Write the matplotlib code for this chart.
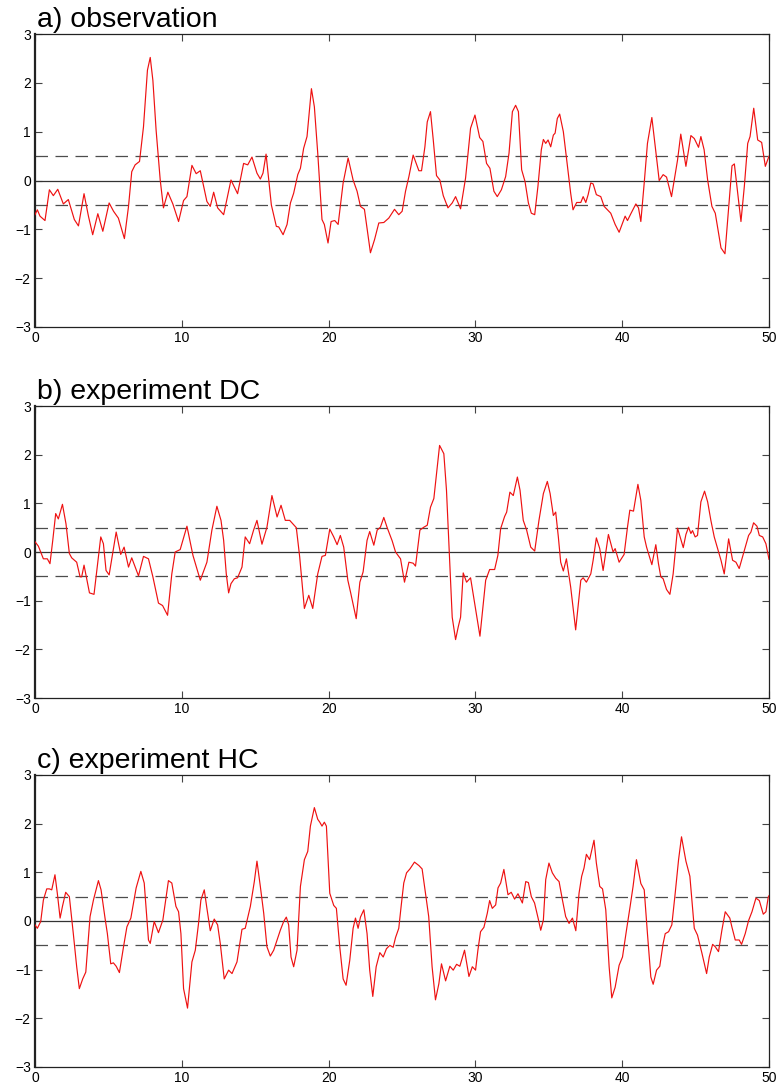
import matplotlib
matplotlib.use("Agg")
import matplotlib.pyplot as plt

# ---------------- data ----------------
obs_t = [0, 0.16, 0.34, 0.68, 0.98, 1.25, 1.55, 1.93, 2.27, 2.68,
         2.96, 3.34, 3.64, 3.93, 4.28, 4.62, 5.05, 5.35, 5.68, 6.09,
         6.37, 6.59, 6.82, 7.12, 7.39, 7.66, 7.85, 8.03, 8.25, 8.53,
         8.75, 9.05, 9.39, 9.78, 10.12, 10.35, 10.69, 10.98, 11.26, 11.71,
         11.94, 12.17, 12.44, 12.85, 13.35, 13.80, 14.21, 14.49, 14.78, 15.12,
         15.35, 15.53, 15.74, 16.10, 16.44, 16.60, 16.90, 17.17, 17.40, 17.62,
         17.90, 18.08, 18.30, 18.53, 18.83, 19.03, 19.26, 19.55, 19.71, 19.96,
         20.17, 20.42, 20.65, 20.99, 21.33, 21.67, 21.94, 22.17, 22.44, 22.85,
         23.13, 23.42, 23.76, 24.10, 24.49, 24.78, 25.01, 25.24, 25.47, 25.76,
         26.15, 26.33, 26.56, 26.72, 26.94, 27.13, 27.35, 27.58, 27.81, 28.13,
         28.42, 28.65, 28.99, 29.33, 29.67, 29.97, 30.29, 30.51, 30.76, 30.99,
         31.26, 31.49, 31.77, 32.06, 32.29, 32.52, 32.74, 32.93, 33.15, 33.38,
         33.61, 33.81, 34.04, 34.26, 34.49, 34.63, 34.79, 34.95, 35.13, 35.31,
         35.43, 35.58, 35.74, 35.99, 36.27, 36.49, 36.65, 36.90, 37.18, 37.34,
         37.52, 37.68, 37.86, 38.02, 38.24, 38.54, 38.77, 39.00, 39.22, 39.52,
         39.79, 40.20, 40.36, 40.59, 40.93, 41.11, 41.27, 41.50, 41.72, 42.02,
         42.25, 42.52, 42.79, 43.02, 43.36, 43.58, 43.77, 43.99, 44.34, 44.68,
         44.91, 45.20, 45.36, 45.58, 45.82, 46.11, 46.34, 46.73, 47.00, 47.30,
         47.48, 47.64, 47.87, 48.09, 48.32, 48.55, 48.71, 48.96, 49.23, 49.50,
         49.75, 50.0]
obs_v = [-0.70, -0.60, -0.73, -0.82, -0.19, -0.31, -0.18, -0.48, -0.39, -0.80,
         -0.93, -0.27, -0.73, -1.11, -0.68, -1.04, -0.46, -0.63, -0.77, -1.19,
         -0.53, 0.18, 0.32, 0.39, 1.10, 2.26, 2.52, 2.05, 1.03, 0.01,
         -0.56, -0.24, -0.48, -0.84, -0.41, -0.33, 0.31, 0.14, 0.20, -0.43,
         -0.53, -0.24, -0.56, -0.70, 0.01, -0.27, 0.35, 0.32, 0.48, 0.15,
         0.03, 0.15, 0.54, -0.50, -0.94, -0.95, -1.11, -0.90, -0.46, -0.26,
         0.12, 0.25, 0.66, 0.90, 1.88, 1.51, 0.56, -0.80, -0.90, -1.28,
         -0.84, -0.82, -0.90, -0.05, 0.46, 0.01, -0.22, -0.53, -0.59, -1.48,
         -1.21, -0.87, -0.86, -0.77, -0.59, -0.70, -0.63, -0.22, 0.08, 0.52,
         0.20, 0.20, 0.69, 1.20, 1.41, 0.83, 0.10, 0.01, -0.31, -0.56,
         -0.46, -0.33, -0.58, 0.05, 1.07, 1.34, 0.88, 0.80, 0.35, 0.25,
         -0.22, -0.33, -0.19, 0.08, 0.56, 1.41, 1.54, 1.41, 0.22, -0.02,
         -0.46, -0.67, -0.70, -0.12, 0.63, 0.84, 0.76, 0.83, 0.69, 0.93,
         0.97, 1.27, 1.36, 1.00, 0.29, -0.26, -0.60, -0.45, -0.45, -0.33,
         -0.45, -0.29, -0.05, -0.07, -0.29, -0.33, -0.53, -0.60, -0.67, -0.90,
         -1.06, -0.73, -0.82, -0.68, -0.48, -0.56, -0.84, -0.05, 0.76, 1.29,
         0.69, 0.00, 0.12, 0.07, -0.33, 0.08, 0.42, 0.95, 0.29, 0.92,
         0.86, 0.68, 0.90, 0.63, 0.01, -0.53, -0.67, -1.38, -1.50, -0.39,
         0.30, 0.34, -0.26, -0.84, -0.12, 0.76, 0.90, 1.48, 0.83, 0.78,
         0.29, 0.50]

dc_t = [0, 0.23, 0.57, 0.84, 1.02, 1.21, 1.41, 1.59, 1.87, 2.11,
        2.34, 2.50, 2.84, 3.07, 3.18, 3.34, 3.71, 4.02, 4.48, 4.66,
        4.84, 5.05, 5.53, 5.84, 6.07, 6.37, 6.59, 7.05, 7.39, 7.73,
        8.03, 8.41, 8.69, 9.03, 9.32, 9.55, 9.89, 10.35, 10.76, 11.26,
        11.71, 12.05, 12.39, 12.67, 12.85, 13.03, 13.19, 13.35, 13.58, 13.80,
        14.10, 14.32, 14.62, 14.89, 15.12, 15.46, 15.80, 16.14, 16.49, 16.76,
        17.05, 17.35, 17.80, 18.03, 18.35, 18.65, 18.92, 19.26, 19.55, 19.78,
        20.08, 20.35, 20.58, 20.80, 21.03, 21.31, 21.49, 21.88, 22.13, 22.35,
        22.62, 22.80, 23.08, 23.31, 23.53, 23.76, 23.99, 24.33, 24.56, 24.90,
        25.17, 25.47, 25.76, 25.92, 26.22, 26.49, 26.72, 26.94, 27.17, 27.40,
        27.56, 27.85, 28.03, 28.26, 28.42, 28.65, 28.83, 28.99, 29.17, 29.40,
        29.67, 29.95, 30.31, 30.70, 30.97, 31.31, 31.53, 31.72, 31.99, 32.13,
        32.35, 32.58, 32.86, 33.04, 33.26, 33.49, 33.77, 34.04, 34.33, 34.63,
        34.90, 35.09, 35.31, 35.47, 35.65, 35.81, 35.99, 36.20, 36.49, 36.83,
        37.18, 37.34, 37.56, 37.86, 38.02, 38.24, 38.47, 38.70, 39.06, 39.38,
        39.52, 39.79, 40.13, 40.36, 40.52, 40.77, 41.07, 41.27, 41.50, 41.66,
        42.02, 42.29, 42.47, 42.63, 42.79, 43.02, 43.25, 43.47, 43.77, 44.16,
        44.34, 44.52, 44.68, 44.79, 44.97, 45.13, 45.36, 45.61, 45.82, 46.04,
        46.27, 46.50, 46.73, 46.95, 47.25, 47.52, 47.75, 47.97, 48.32, 48.61,
        48.77, 48.95, 49.18, 49.34, 49.57, 49.79, 50.0]
dc_v = [0.21, 0.12, -0.14, -0.14, -0.24, 0.24, 0.79, 0.68, 0.98, 0.58,
        -0.03, -0.12, -0.21, -0.51, -0.51, -0.27, -0.84, -0.87, 0.31, 0.17,
        -0.38, -0.47, 0.41, -0.05, 0.10, -0.31, -0.12, -0.49, -0.09, -0.14,
        -0.51, -1.05, -1.10, -1.30, -0.45, 0.00, 0.05, 0.53, -0.07, -0.58,
        -0.21, 0.45, 0.94, 0.65, 0.24, -0.45, -0.84, -0.65, -0.55, -0.53,
        -0.31, 0.31, 0.17, 0.45, 0.65, 0.16, 0.51, 1.16, 0.72, 0.96,
        0.65, 0.65, 0.50, -0.10, -1.16, -0.89, -1.16, -0.45, -0.09, -0.07,
        0.47, 0.31, 0.15, 0.34, 0.10, -0.58, -0.82, -1.37, -0.62, -0.41,
        0.24, 0.42, 0.14, 0.45, 0.51, 0.71, 0.50, 0.23, 0.00, -0.14,
        -0.62, -0.21, -0.23, -0.29, 0.45, 0.51, 0.55, 0.92, 1.10, 1.75,
        2.19, 2.02, 1.27, -0.24, -1.34, -1.80, -1.54, -1.34, -0.43, -0.62,
        -0.53, -1.06, -1.73, -0.58, -0.36, -0.36, -0.07, 0.48, 0.73, 0.82,
        1.23, 1.16, 1.54, 1.27, 0.65, 0.45, 0.10, 0.02, 0.65, 1.20,
        1.45, 1.20, 0.75, 0.82, 0.31, -0.21, -0.39, -0.14, -0.72, -1.60,
        -0.58, -0.53, -0.62, -0.45, -0.17, 0.29, 0.07, -0.38, 0.36, 0.00,
        0.07, -0.21, -0.05, 0.51, 0.86, 0.84, 1.39, 1.06, 0.31, 0.10,
        -0.26, 0.15, -0.24, -0.51, -0.55, -0.77, -0.87, -0.45, 0.49, 0.09,
        0.36, 0.51, 0.38, 0.44, 0.31, 0.34, 1.03, 1.25, 1.03, 0.65,
        0.31, 0.07, -0.17, -0.45, 0.27, -0.17, -0.21, -0.34, 0.03, 0.34,
        0.41, 0.60, 0.53, 0.34, 0.31, 0.17, -0.15]

hc_t = [0, 0.16, 0.39, 0.57, 0.80, 0.98, 1.14, 1.36, 1.52, 1.71,
        1.87, 2.09, 2.34, 2.61, 2.84, 3.02, 3.25, 3.46, 3.75, 3.98,
        4.32, 4.50, 4.77, 4.93, 5.16, 5.34, 5.53, 5.75, 6.03, 6.26,
        6.53, 6.89, 7.21, 7.44, 7.73, 7.85, 8.12, 8.41, 8.71, 9.09,
        9.32, 9.60, 9.78, 9.94, 10.12, 10.39, 10.69, 10.92, 11.14, 11.30,
        11.53, 11.71, 11.94, 12.21, 12.44, 12.62, 12.89, 13.19, 13.42, 13.76,
        14.10, 14.32, 14.67, 14.94, 15.12, 15.35, 15.58, 15.80, 16.03, 16.26,
        16.49, 16.71, 16.94, 17.12, 17.28, 17.44, 17.62, 17.85, 18.08, 18.35,
        18.58, 18.76, 19.03, 19.26, 19.40, 19.55, 19.71, 19.85, 20.08, 20.35,
        20.53, 20.76, 20.99, 21.19, 21.44, 21.67, 21.83, 22.01, 22.17, 22.40,
        22.62, 22.80, 23.01, 23.24, 23.49, 23.72, 23.94, 24.17, 24.40, 24.56,
        24.78, 24.94, 25.12, 25.31, 25.54, 25.85, 26.15, 26.37, 26.60, 26.82,
        27.05, 27.28, 27.51, 27.69, 27.97, 28.26, 28.49, 28.72, 28.94, 29.26,
        29.56, 29.79, 30.01, 30.17, 30.35, 30.58, 30.81, 30.97, 31.15, 31.38,
        31.54, 31.72, 31.94, 32.22, 32.44, 32.67, 32.90, 33.20, 33.43, 33.61,
        33.81, 34.03, 34.27, 34.45, 34.63, 34.79, 35.01, 35.24, 35.47, 35.70,
        35.93, 36.15, 36.38, 36.61, 36.84, 37.06, 37.24, 37.40, 37.56, 37.78,
        38.08, 38.24, 38.47, 38.66, 38.88, 39.11, 39.29, 39.52, 39.79, 40.02,
        40.29, 40.54, 40.74, 40.97, 41.27, 41.50, 41.72, 41.95, 42.11, 42.34,
        42.56, 42.79, 42.93, 43.16, 43.38, 43.61, 43.84, 44.04, 44.34, 44.61,
        44.91, 45.13, 45.43, 45.75, 45.93, 46.16, 46.34, 46.56, 46.79, 47.02,
        47.33, 47.47, 47.70, 47.97, 48.13, 48.38, 48.61, 48.84, 49.11, 49.34,
        49.61, 49.79, 49.95, 50.0]
hc_v = [-0.08, -0.15, -0.01, 0.43, 0.66, 0.66, 0.64, 0.95, 0.57, 0.06,
        0.30, 0.59, 0.50, -0.26, -0.94, -1.39, -1.19, -1.05, 0.09, 0.43,
        0.83, 0.64, 0.06, -0.26, -0.88, -0.86, -0.93, -1.06, -0.53, -0.12,
        0.06, 0.68, 1.02, 0.78, -0.39, -0.46, -0.01, -0.24, 0.02, 0.83,
        0.78, 0.30, 0.19, -0.26, -1.39, -1.79, -0.84, -0.60, -0.05, 0.43,
        0.64, 0.26, -0.20, 0.04, -0.08, -0.46, -1.19, -1.01, -1.08, -0.84,
        -0.17, -0.15, 0.30, 0.81, 1.23, 0.71, 0.16, -0.53, -0.72, -0.60,
        -0.39, -0.19, -0.01, 0.08, -0.08, -0.74, -0.94, -0.60, 0.71, 1.26,
        1.43, 1.95, 2.33, 2.09, 2.03, 1.95, 2.03, 1.95, 0.57, 0.32,
        0.26, -0.53, -1.19, -1.32, -0.81, -0.15, 0.06, -0.15, 0.08, 0.23,
        -0.26, -1.01, -1.55, -0.94, -0.65, -0.74, -0.57, -0.50, -0.54, -0.34,
        -0.15, 0.30, 0.78, 0.99, 1.07, 1.21, 1.14, 1.07, 0.57, 0.09,
        -0.94, -1.62, -1.29, -0.88, -1.23, -0.93, -1.01, -0.89, -0.93, -0.60,
        -1.14, -0.94, -1.01, -0.60, -0.22, -0.13, 0.16, 0.42, 0.26, 0.33,
        0.68, 0.78, 1.06, 0.54, 0.59, 0.45, 0.56, 0.37, 0.81, 0.79,
        0.50, 0.37, 0.06, -0.19, 0.02, 0.85, 1.19, 0.99, 0.88, 0.81,
        0.43, 0.09, -0.05, 0.06, -0.20, 0.57, 0.92, 1.09, 1.37, 1.26,
        1.66, 1.19, 0.71, 0.66, 0.23, -0.94, -1.58, -1.36, -0.91, -0.74,
        -0.19, 0.30, 0.71, 1.26, 0.77, 0.64, -0.26, -1.15, -1.30, -1.01,
        -0.93, -0.46, -0.26, -0.22, -0.08, 0.57, 1.26, 1.73, 1.23, 0.92,
        -0.15, -0.29, -0.66, -1.08, -0.74, -0.48, -0.53, -0.63, -0.19, 0.19,
        0.06, -0.12, -0.39, -0.39, -0.48, -0.26, 0.01, 0.19, 0.47, 0.42,
        0.14, 0.19, 0.49, 0.52]

titles = ["a) observation", "b) experiment DC", "c) experiment HC"]
x_ticks = [0, 10, 20, 30, 40, 50]
y_ticks = [-3, -2, -1, 0, 1, 2, 3]
threshold = 0.5

series = [(obs_t, obs_v), (dc_t, dc_v), (hc_t, hc_v)]
for t, v in series:
    assert len(t) == len(v), (len(t), len(v))

# ---------------- figure ----------------
W, H = 781, 1092
fig = plt.figure(figsize=(W / 100, H / 100), dpi=100)
plt.rcParams['font.family'] = ['Liberation Sans', 'DejaVu Sans']

# pixel boxes of the three axes: (left, top, right, bottom)
boxes = [(35, 34, 769, 327), (35, 406, 769, 698), (35, 775, 769, 1067)]

for (t, v), title, (l, tp, r, b) in zip(series, titles, boxes):
    ax = fig.add_axes([l / W, 1 - b / H, (r - l) / W, (b - tp) / H])
    ax.plot(t, v, color='#ee1111', lw=0.85, zorder=3)
    ax.axhline(0, color='#333333', lw=0.9, zorder=2)
    ax.axhline(threshold, color='#4d4d4d', lw=0.9, ls=(0, (10, 6)), zorder=2)
    ax.axhline(-threshold, color='#4d4d4d', lw=0.9, ls=(0, (10, 6)), zorder=2)
    ax.set_xlim(0, 50)
    ax.set_ylim(-3, 3)
    ax.set_xticks(x_ticks)
    ax.set_yticks(y_ticks)
    ax.set_yticklabels(['\u22123', '\u22122', '\u22121', '0', '1', '2', '3'])
    ax.tick_params(direction='in', length=5, width=0.8, color='#444444',
                   labelsize=10, top=True, right=True, pad=3)
    for s in ax.spines.values():
        s.set_linewidth(0.9)
        s.set_color('#222222')
    ax.spines['left'].set_linewidth(1.6)
    ax.text(0.003, 1.004, title, transform=ax.transAxes, ha='left', va='bottom',
            fontsize=20.5, color='black')

fig.savefig('out.png', dpi=100)
